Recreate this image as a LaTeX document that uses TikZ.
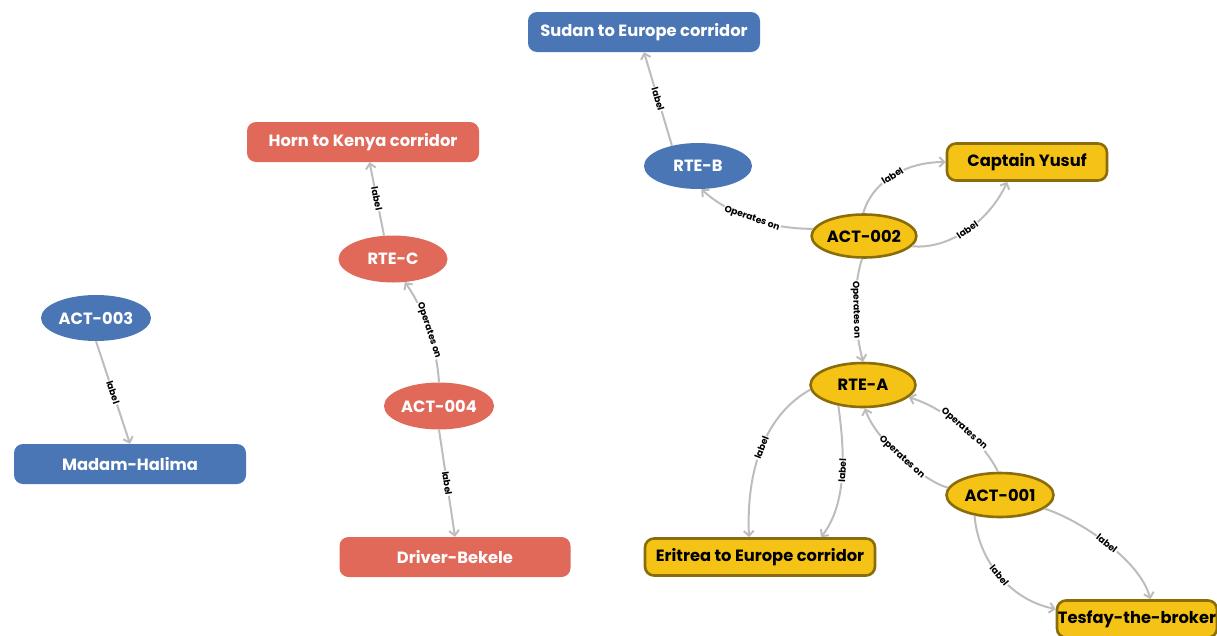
\documentclass[tikz,border=0pt]{standalone}
\usepackage{fontspec}
\setmainfont{Poppins}
\usetikzlibrary{shapes.geometric,arrows.meta}
\definecolor{cblue}{HTML}{4A76B5}
\definecolor{cred}{HTML}{E0695A}
\definecolor{cyel}{HTML}{F4C316}
\definecolor{cyelb}{HTML}{8A6C08}
\definecolor{cedge}{HTML}{BDBDBD}
\tikzset{
  nodefont/.style={font=\bfseries\fontsize{16.3}{18}\selectfont},
  rbox/.style={rectangle, rounded corners=9pt, minimum height=40pt, inner sep=0pt, nodefont},
  oval/.style={ellipse, minimum width=108pt, minimum height=46pt, inner sep=0pt, nodefont},
  bluef/.style={fill=cblue, text=white},
  redf/.style={fill=cred, text=white},
  yelf/.style={fill=cyel, draw=cyelb, line width=2.6pt, text=black},
  edge/.style={draw=cedge, line width=2pt, -{Straight Barb[length=5pt,width=10pt]}},
  lab/.style={font=\bfseries\fontsize{9.2}{10}\selectfont, fill=white, inner sep=0.8pt, sloped, pos=0.5, text=black}
}
\begin{document}
\begin{tikzpicture}[x=1pt,y=-1pt]
\useasboundingbox (0,0) rectangle (1217,635);
% nodes
\node[rbox,bluef,minimum width=232pt] (sudan) at (644,32) {Sudan to Europe corridor};
\node[rbox,redf,minimum width=232pt] (horn) at (363,142) {Horn to Kenya corridor};
\node[rbox,bluef,minimum width=232pt] (madam) at (130,464) {Madam-Halima};
\node[rbox,redf,minimum width=231pt] (driver) at (455,557) {Driver-Bekele};
\node[rbox,yelf,minimum width=230pt,minimum height=37pt] (eritrea) at (760,557) {Eritrea to Europe corridor};
\node[rbox,yelf,minimum width=160pt,minimum height=37pt] (yusuf) at (1027,162) {Captain Yusuf};
\node[rbox,yelf,minimum width=160pt,minimum height=37pt] (tesfay) at (1137,619) {Tesfay-the-broker};
\node[oval,bluef] (rteb) at (698,166) {RTE-B};
\node[oval,yelf,minimum width=102pt,minimum height=43pt] (act2) at (864,236) {ACT-002};
\node[oval,redf,minimum width=109pt,minimum height=47pt] (rtec) at (393,259) {RTE-C};
\node[oval,bluef,minimum width=110pt] (act3) at (96,318) {ACT-003};
\node[oval,yelf,minimum width=105pt,minimum height=44pt] (rtea) at (863,385) {RTE-A};
\node[oval,redf,minimum width=110pt,minimum height=47pt] (act4) at (439,406) {ACT-004};
\node[oval,yelf,minimum width=107pt,minimum height=44pt] (act1) at (1000,495) {ACT-001};
% edges
\draw[edge] (rteb.142) -- (sudan.south) node[lab] {label};
\draw[edge] (act2.172) .. controls (770,229) and (730,215) .. (rteb.-82) node[lab] {Operates on};
\draw[edge] (act2.92) .. controls (872,182) and (905,162) .. (yusuf.west) node[lab] {label};
\draw[edge] (act2.-12) .. controls (950,250) and (990,220) .. (yusuf.-135) node[lab] {label};
\draw[edge] (act2.-95) .. controls (852,290) and (855,330) .. (rtea.north) node[lab] {Operates on};
\draw[edge] (rtec.111) -- (horn.-72) node[lab] {label};
\draw[edge] (act4.north) .. controls (437,350) and (425,310) .. (rtec.-63) node[lab] {Operates on};
\draw[edge] (act4.south) -- (driver.north) node[lab] {label};
\draw[edge] (act3.south) -- (madam.north) node[lab] {label};
\draw[edge] (rtea.185) .. controls (765,415) and (746,470) .. (eritrea.119) node[lab] {label};
\draw[edge] (rtea.-140) .. controls (843,440) and (850,500) .. (eritrea.18) node[lab] {label};
\draw[edge] (act1.95) .. controls (985,445) and (950,410) .. (rtea.-15) node[lab] {Operates on};
\draw[edge] (act1.172) .. controls (925,482) and (875,440) .. (rtea.-85) node[lab] {Operates on};
\draw[edge] (act1.-17) .. controls (1080,520) and (1140,560) .. (tesfay.56) node[lab] {label};
\draw[edge] (act1.-141) .. controls (978,560) and (1010,600) .. (tesfay.173) node[lab] {label};
\end{tikzpicture}
\end{document}
